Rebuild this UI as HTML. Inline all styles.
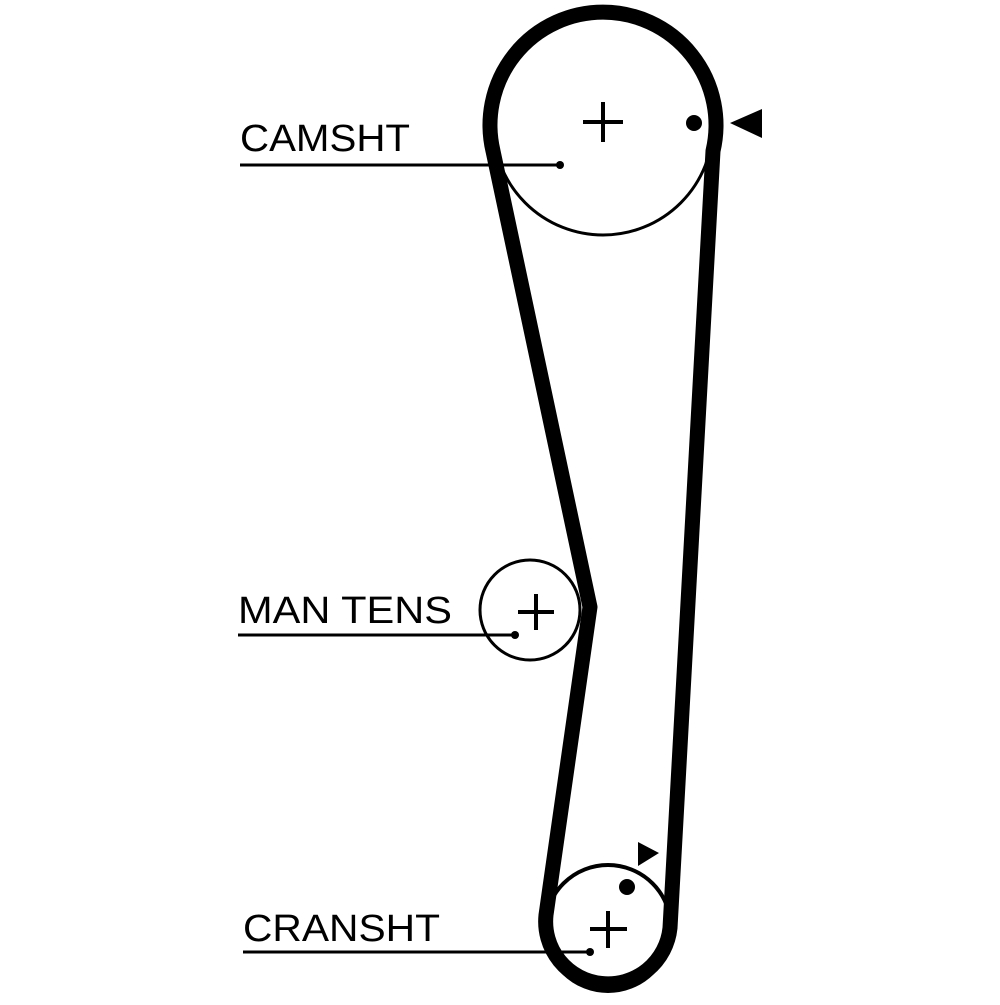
<!DOCTYPE html>
<html><head><style>html,body{margin:0;padding:0;background:#fff}</style></head>
<body>
<svg width="1000" height="1000" viewBox="0 0 1000 1000" xmlns="http://www.w3.org/2000/svg">
<rect width="1000" height="1000" fill="#fff"/>
<circle cx="603" cy="125" r="110" fill="none" stroke="#000" stroke-width="3"/>
<circle cx="530" cy="610" r="50" fill="none" stroke="#000" stroke-width="3"/>
<circle cx="608" cy="928" r="63" fill="none" stroke="#000" stroke-width="4"/>
<path d="M 493,151 A 113 113 0 1 1 713,151 L 670,928 A 62 62 0 1 1 546,915 L 590,607 Z" fill="none" stroke="#000" stroke-width="15" stroke-linejoin="round"/>
<g stroke="#000" stroke-width="4">
<line x1="603" y1="102" x2="603" y2="142"/><line x1="583" y1="122" x2="623" y2="122"/>
<line x1="536" y1="594" x2="536" y2="630"/><line x1="518" y1="612" x2="554" y2="612"/>
<line x1="608" y1="911" x2="608" y2="948"/><line x1="590" y1="929" x2="627" y2="929"/>
</g>
<g stroke="#000" stroke-width="3">
<line x1="240" y1="165" x2="560" y2="165"/>
<line x1="238" y1="635" x2="515" y2="635"/>
<line x1="243" y1="952" x2="590" y2="952"/>
</g>
<g fill="#000">
<circle cx="560" cy="165" r="4"/><circle cx="515" cy="635" r="4"/><circle cx="590" cy="952" r="4"/>
<circle cx="694" cy="123" r="8"/><circle cx="627" cy="887" r="8"/>
<polygon points="730,123 762,109 762,138"/>
<polygon points="638,842 659,853 638,866"/>
</g>
<g font-family="Liberation Sans, sans-serif" font-size="38" fill="#000">
<text x="240" y="151" textLength="170" lengthAdjust="spacingAndGlyphs">CAMSHT</text>
<text x="238" y="623" textLength="214" lengthAdjust="spacingAndGlyphs">MAN TENS</text>
<text x="243" y="941" textLength="197" lengthAdjust="spacingAndGlyphs">CRANSHT</text>
</g>
</svg>
</body></html>
